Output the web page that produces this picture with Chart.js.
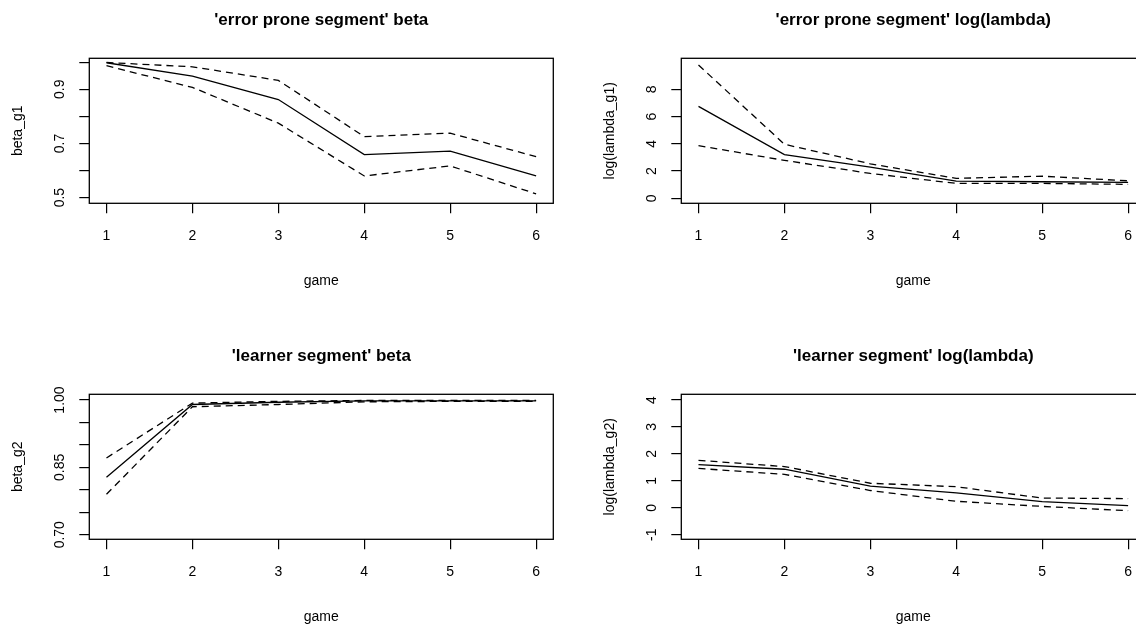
<!DOCTYPE html>
<html>
<head>
<meta charset="utf-8">
<title>segment estimates by game</title>
<script src="https://cdn.jsdelivr.net/npm/chart.js@4.4.1/dist/chart.umd.min.js"></script>
<style>
  html, body { margin: 0; padding: 0; background: #fff; }
  #figure { position: relative; width: 1136px; height: 626px; overflow: hidden; }
  #figure canvas { position: absolute; }
</style>
</head>
<body>
<div id="figure">
  <canvas id="betaG1" width="592" height="336" style="left:0px;top:0px"></canvas>
  <canvas id="lambdaG1" width="592" height="336" style="left:592.4px;top:0px"></canvas>
  <canvas id="betaG2" width="592" height="336" style="left:0px;top:336px"></canvas>
  <canvas id="lambdaG2" width="592" height="336" style="left:592.4px;top:336px"></canvas>
</div>
<script>
// games on the x axis
var games = [1, 2, 3, 4, 5, 6];

// 'error prone segment' beta: estimate and interval bounds
var beta1Mean  = [0.998, 0.949, 0.862, 0.659, 0.672, 0.580];
var beta1Upper = [0.999, 0.983, 0.933, 0.725, 0.738, 0.651];
var beta1Lower = [0.987, 0.907, 0.775, 0.580, 0.617, 0.514];

// 'error prone segment' log(lambda)
var lambda1Mean  = [6.74, 3.20, 2.28, 1.26, 1.21, 1.17];
var lambda1Upper = [9.78, 3.96, 2.53, 1.46, 1.62, 1.28];
var lambda1Lower = [3.86, 2.78, 1.82, 1.09, 1.09, 1.02];

// 'learner segment' beta
var beta2Mean  = [0.828, 0.990, 0.995, 0.998, 0.998, 0.998];
var beta2Upper = [0.871, 0.993, 0.997, 0.999, 0.999, 0.999];
var beta2Lower = [0.790, 0.985, 0.990, 0.996, 0.997, 0.997];

// 'learner segment' log(lambda)
var lambda2Mean  = [1.60, 1.43, 0.80, 0.55, 0.23, 0.08];
var lambda2Upper = [1.76, 1.53, 0.91, 0.78, 0.36, 0.34];
var lambda2Lower = [1.46, 1.24, 0.64, 0.24, 0.05, -0.11];

// tick positions and the labels printed at them ('' = tick only)
var gameTicks = [1, 2, 3, 4, 5, 6];
var gameLabels = ['1', '2', '3', '4', '5', '6'];
var beta1Ticks = [0.5, 0.6, 0.7, 0.8, 0.9, 1.0];
var beta1Labels = ['0.5', '', '0.7', '', '0.9', ''];
var lambda1Ticks = [0, 2, 4, 6, 8];
var lambda1Labels = ['0', '2', '4', '6', '8'];
var beta2Ticks = [0.70, 0.75, 0.80, 0.85, 0.90, 0.95, 1.00];
var beta2Labels = ['0.70', '', '', '0.85', '', '', '1.00'];
var lambda2Ticks = [-1, 0, 1, 2, 3, 4];
var lambda2Labels = ['-1', '0', '1', '2', '3', '4'];

var FONT = '"Liberation Sans", Arial, Helvetica, sans-serif';
var PANEL_W = 592;
var PANEL_H = 336;
var BOX = { left: 89.3, top: 58.3, right: 553.3, bottom: 203.3 };
var TICK_LEN = 10;

// draws the frame round the plotting region
var plotBox = {
  id: 'plotBox',
  afterDatasetsDraw: function(chart) {
    var a = chart.chartArea;
    var ctx = chart.ctx;
    ctx.save();
    ctx.strokeStyle = '#000';
    ctx.lineWidth = 1.3;
    ctx.strokeRect(a.left, a.top, a.right - a.left, a.bottom - a.top);
    ctx.restore();
  }
};

// the y tick labels are rotated, so the padding depends on the widest label
function yLabelPadding(labels) {
  var ctx = document.createElement('canvas').getContext('2d');
  ctx.font = '14px ' + FONT;
  var widest = 0;
  labels.forEach(function(l) { widest = Math.max(widest, ctx.measureText(l).width); });
  return (BOX.left - 60 - TICK_LEN) - widest / 2;
}

function series(values, dashed) {
  return {
    data: games.map(function(g, i) { return { x: g, y: values[i] }; }),
    borderColor: '#000',
    borderWidth: 1.3,
    borderDash: dashed ? [7, 5] : [],
    pointRadius: 0,
    tension: 0,
    fill: false
  };
}

function drawPanel(id, title, yTitle, mean, upper, lower, yMin, yMax, yTicks, yLabels) {
  var ctx = document.getElementById(id).getContext('2d');
  return new Chart(ctx, {
    type: 'line',
    data: { datasets: [series(mean, false), series(upper, true), series(lower, true)] },
    options: {
      responsive: false,
      animation: false,
      events: [],
      layout: { padding: { left: 0, top: 0, right: PANEL_W - BOX.right, bottom: 0 } },
      plugins: {
        legend: { display: false },
        tooltip: { enabled: false },
        title: {
          display: true,
          text: title,
          fullSize: false,
          color: '#000',
          font: { family: FONT, size: 17, weight: 'bold', lineHeight: 1.2 },
          padding: { top: 9.8, bottom: BOX.top - 20.4 - 9.8 }
        }
      },
      scales: {
        x: {
          type: 'linear',
          min: 0.8,
          max: 6.2,
          afterBuildTicks: function(scale) {
            scale.ticks = gameTicks.map(function(v) { return { value: v }; });
          },
          afterFit: function(scale) { scale.height = PANEL_H - BOX.bottom; },
          border: { display: false },
          grid: { drawOnChartArea: false, drawTicks: true, tickLength: TICK_LEN, color: '#000', lineWidth: 1.2 },
          ticks: {
            autoSkip: false,
            maxRotation: 0,
            padding: 33.3 - TICK_LEN - 8.4,
            color: '#000',
            font: { family: FONT, size: 14, lineHeight: 1.2 },
            callback: function(v, i) { return gameLabels[i]; }
          },
          title: {
            display: true,
            text: 'game',
            color: '#000',
            font: { family: FONT, size: 14, lineHeight: 1.2 },
            padding: { top: 0, bottom: 46.6 }
          }
        },
        y: {
          type: 'linear',
          min: yMin,
          max: yMax,
          afterBuildTicks: function(scale) {
            scale.ticks = yTicks.map(function(v) { return { value: v }; });
          },
          afterFit: function(scale) { scale.width = BOX.left; },
          border: { display: false },
          grid: { drawOnChartArea: false, drawTicks: true, tickLength: TICK_LEN, color: '#000', lineWidth: 1.2 },
          ticks: {
            autoSkip: false,
            minRotation: 90,
            maxRotation: 90,
            crossAlign: 'center',
            padding: yLabelPadding(yLabels),
            color: '#000',
            font: { family: FONT, size: 14, lineHeight: 1.2 },
            callback: function(v, i) { return yLabels[i]; }
          },
          title: {
            display: true,
            text: yTitle,
            color: '#000',
            font: { family: FONT, size: 14, lineHeight: 1.2 },
            padding: { top: 9.9, bottom: 0 }
          }
        }
      }
    },
    plugins: [plotBox]
  });
}

drawPanel('betaG1', "'error prone segment' beta", 'beta_g1',
  beta1Mean, beta1Upper, beta1Lower, 0.479, 1.0144, beta1Ticks, beta1Labels);
drawPanel('lambdaG1', "'error prone segment' log(lambda)", 'log(lambda_g1)',
  lambda1Mean, lambda1Upper, lambda1Lower, -0.37, 10.27, lambda1Ticks, lambda1Labels);
drawPanel('betaG2', "'learner segment' beta", 'beta_g2',
  beta2Mean, beta2Upper, beta2Lower, 0.6898, 1.0127, beta2Ticks, beta2Labels);
drawPanel('lambdaG2', "'learner segment' log(lambda)", 'log(lambda_g2)',
  lambda2Mean, lambda2Upper, lambda2Lower, -1.171, 4.2116, lambda2Ticks, lambda2Labels);
</script>
</body>
</html>
